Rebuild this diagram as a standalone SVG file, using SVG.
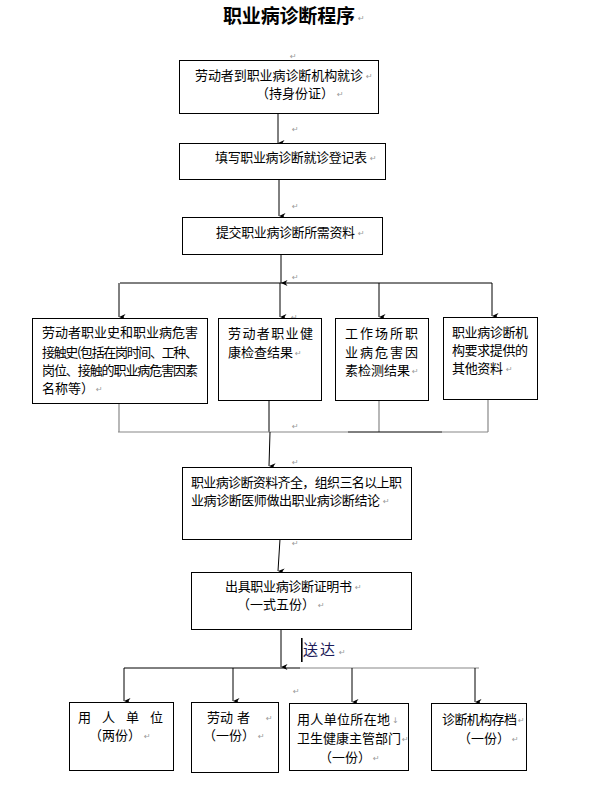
<svg xmlns="http://www.w3.org/2000/svg" width="589" height="812" viewBox="0 0 589 812">
<defs>
<marker id="ah" markerUnits="userSpaceOnUse" markerWidth="6" markerHeight="7" refX="3" refY="6.5" orient="auto-start-reverse" viewBox="0 0 6 7">
<path d="M0,0 L3,6.5 L6,0 L3,2 z" fill="#000"/>
</marker>
</defs>
<style>
text{font-family:"Noto Sans CJK SC","Noto Sans",sans-serif;fill:#000;font-size:13px}
.t{font-size:19px;font-weight:bold}
.box{fill:#fff;stroke:#000;stroke-width:1}
.c{stroke:#000;stroke-width:1;fill:none}
.g{stroke:#888;stroke-width:1.2;fill:none}
.a{marker-end:url(#ah)}
.r{font-family:"DejaVu Sans",sans-serif;font-size:8px;fill:#999}
</style>
<rect width="589" height="812" fill="#fff"/>

<g id="title">
<text class="t" x="223" y="23" textLength="132" lengthAdjust="spacing">职业病诊断程序</text>
<text class="r" x="358" y="21">↵</text>
</g>

<g id="connectors">
<line class="c a" x1="278" y1="113" x2="278" y2="143"/>
<line class="c a" x1="279" y1="179" x2="279" y2="216"/>
<line class="c a" x1="281" y1="254" x2="281" y2="283"/>
<line class="c" x1="120" y1="283" x2="492" y2="283"/>
<line class="c a" x1="119" y1="283" x2="119" y2="317"/>
<line class="c a" x1="280" y1="283" x2="280" y2="317"/>
<line class="c a" x1="379" y1="283" x2="379" y2="317"/>
<line class="c a" x1="492" y1="283" x2="492" y2="316"/>
<line class="g" x1="119" y1="403" x2="119" y2="432"/>
<line class="c" x1="269" y1="400" x2="269" y2="432"/>
<line class="g" x1="379" y1="400" x2="379" y2="432"/>
<line class="g" x1="488" y1="399" x2="488" y2="432"/>
<line class="g" x1="118" y1="432" x2="348" y2="432"/>
<line class="c" x1="348" y1="432" x2="442" y2="432"/>
<line class="g" x1="442" y1="432" x2="488" y2="432"/>
<line class="c a" x1="270" y1="432" x2="269" y2="466"/>
<line class="c a" x1="280" y1="539" x2="278" y2="571"/>
<line class="c a" x1="281" y1="629" x2="281" y2="667"/>
<line class="c" x1="124" y1="668" x2="300" y2="668"/>
<line class="g" x1="300" y1="668" x2="479" y2="668"/>
<line class="c a" x1="124" y1="668" x2="124" y2="701"/>
<line class="c a" x1="233" y1="668" x2="233" y2="701"/>
<line class="c a" x1="352" y1="668" x2="352" y2="702"/>
<line class="c a" x1="475" y1="668" x2="475" y2="702"/>
<rect x="301" y="638" width="1.6" height="24" fill="#000"/>
<text x="303" y="655" textLength="32" lengthAdjust="spacing" style="font-size:15px;fill:#1c1c5a">送达</text>
<text class="r" x="339" y="655">↵</text>
</g>

<g id="node-visit">
<rect class="box" x="179.5" y="60.5" width="199" height="53"/>
<text x="195" y="80" textLength="168" lengthAdjust="spacing">劳动者到职业病诊断机构就诊</text>
<text x="256" y="98">（持身份证）</text>
<text class="r" x="337" y="97">↵</text>
<text class="r" x="366" y="79">↵</text>
<text class="r" x="290" y="59">↵</text>
<text class="r" x="292" y="132">↵</text>
</g>

<g id="node-register">
<rect class="box" x="179.5" y="143.5" width="206" height="36"/>
<text x="215" y="162" textLength="152" lengthAdjust="spacing">填写职业病诊断就诊登记表</text>
<text class="r" x="370" y="161">↵</text>
<text class="r" x="292" y="209">↵</text>
</g>

<g id="node-submit">
<rect class="box" x="182.5" y="217.5" width="200" height="37"/>
<text x="216" y="237" textLength="139" lengthAdjust="spacing">提交职业病诊断所需资料</text>
<text class="r" x="358" y="236">↵</text>
<text class="r" x="292" y="280">↵</text>
<text class="r" x="291" y="320">↵</text>
</g>

<g id="node-history">
<rect class="box" x="32.5" y="318.5" width="175" height="85"/>
<text x="42" y="337" textLength="156" lengthAdjust="spacing">劳动者职业史和职业病危害</text>
<text x="42" y="357" textLength="156" lengthAdjust="spacing">接触史(包括在岗时间、工种、</text>
<text x="42" y="375" textLength="156" lengthAdjust="spacing">岗位、接触的职业病危害因素</text>
<text x="42" y="393">名称等）</text>
<text class="r" x="96" y="392">↵</text>
</g>

<g id="node-health">
<rect class="box" x="218.5" y="318.5" width="103" height="82"/>
<text x="228" y="338" textLength="85" lengthAdjust="spacing">劳动者职业健</text>
<text x="228" y="357" textLength="65" lengthAdjust="spacing">康检查结果</text>
<text class="r" x="295" y="356">↵</text>
</g>

<g id="node-workplace">
<rect class="box" x="335.5" y="318.5" width="93" height="82"/>
<text x="345" y="338" textLength="73" lengthAdjust="spacing">工作场所职</text>
<text x="345" y="357" textLength="73" lengthAdjust="spacing">业病危害因</text>
<text x="345" y="375" textLength="65" lengthAdjust="spacing">素检测结果</text>
<text class="r" x="412" y="374">↵</text>
</g>

<g id="node-other">
<rect class="box" x="443.5" y="317.5" width="94" height="82"/>
<text x="452" y="337" textLength="76" lengthAdjust="spacing">职业病诊断机</text>
<text x="452" y="355" textLength="76" lengthAdjust="spacing">构要求提供的</text>
<text x="452" y="373" textLength="51" lengthAdjust="spacing">其他资料</text>
<text class="r" x="506" y="372">↵</text>
</g>

<g id="node-conclusion">
<text class="r" x="292" y="429">↵</text>
<text class="r" x="292" y="465">↵</text>
<rect class="box" x="182.5" y="467.5" width="229" height="72"/>
<text x="191" y="487" textLength="211" lengthAdjust="spacing">职业病诊断资料齐全，组织三名以上职</text>
<text x="191" y="505" textLength="189" lengthAdjust="spacing">业病诊断医师做出职业病诊断结论</text>
<text class="r" x="383" y="504">↵</text>
<text class="r" x="292" y="546">↵</text>
</g>

<g id="node-certificate">
<rect class="box" x="191.5" y="572.5" width="220" height="57"/>
<text x="225" y="591" textLength="127" lengthAdjust="spacing">出具职业病诊断证明书</text>
<text x="237" y="609">（一式五份）</text>
<text class="r" x="318" y="608">↵</text>
<text class="r" x="355" y="590">↵</text>
<text class="r" x="293" y="694">↵</text>
</g>

<g id="node-employer">
<rect class="box" x="69.5" y="702.5" width="104" height="68"/>
<text x="78" y="722" textLength="85" lengthAdjust="spacing">用人单位</text>
<text x="89" y="740">（两份）</text>
<text class="r" x="144" y="739">↵</text>
</g>

<g id="node-worker">
<rect class="box" x="191.5" y="702.5" width="87" height="70"/>
<text x="207" y="722" textLength="26" lengthAdjust="spacing">劳动</text>
<text x="237" y="722">者</text>
<text class="r" x="266" y="721">↵</text>
<text x="203" y="740">（一份）</text>
<text class="r" x="258" y="739">↵</text>
</g>

<g id="node-authority">
<rect class="box" x="289.5" y="703.5" width="119" height="67"/>
<text x="297" y="724" textLength="93" lengthAdjust="spacing">用人单位所在地</text>
<text class="r" x="392" y="723">↓</text>
<text x="297" y="743" textLength="104" lengthAdjust="spacing">卫生健康主管部门</text>
<text class="r" x="402" y="742">↵</text>
<text x="319" y="762">（一份）</text>
<text class="r" x="373" y="761">↵</text>
</g>

<g id="node-archive">
<rect class="box" x="431.5" y="703.5" width="95" height="67"/>
<text x="442" y="724" textLength="75" lengthAdjust="spacing">诊断机构存档</text>
<text class="r" x="518" y="723">↵</text>
<text x="458" y="743">（一份）</text>
<text class="r" x="512" y="742">↵</text>
</g>
</svg>
